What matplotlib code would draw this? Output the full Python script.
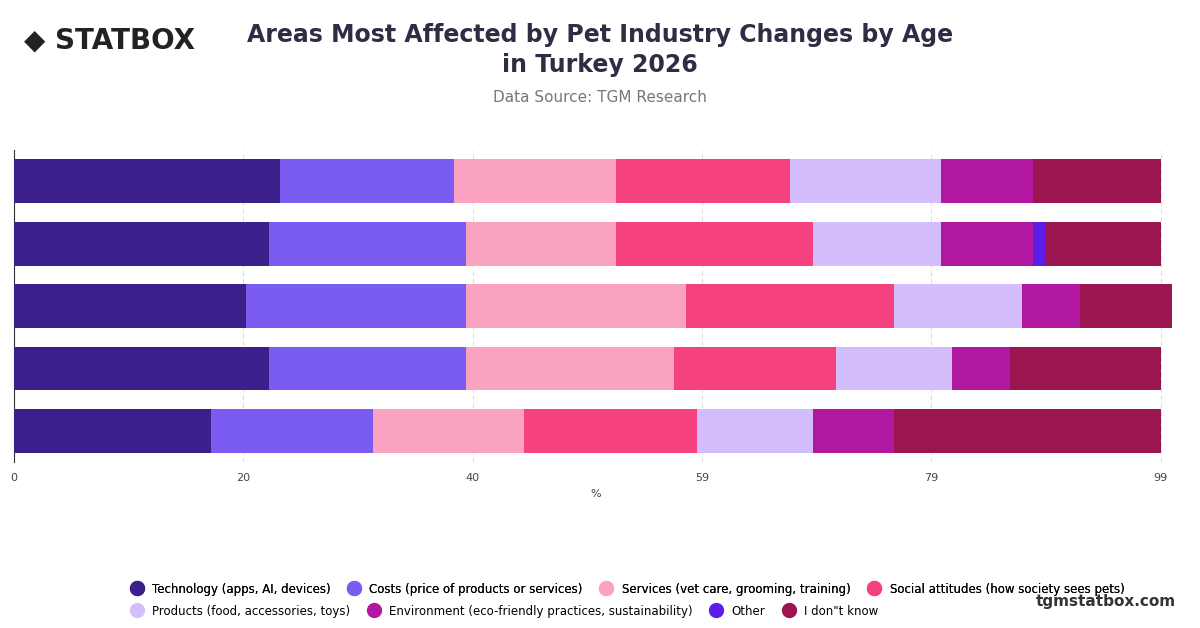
import matplotlib.pyplot as plt
from matplotlib.lines import Line2D
import numpy as np

groups = ["18-24", "25-34", "35-44", "45-54", "55+"]
series = ["Technology (apps, AI, devices)", "Costs (price of products or services)",
          "Services (vet care, grooming, training)", "Social attitudes (how society sees pets)",
          "Products (food, accessories, toys)", "Environment (eco-friendly practices, sustainability)",
          "Other", "I don\"t know"]
values = [
    [23, 22, 20, 22, 17],
    [15, 17, 19, 17, 14],
    [14, 13, 19, 18, 13],
    [15, 17, 18, 14, 15],
    [13, 11, 11, 10, 10],
    [8, 8, 5, 5, 7],
    [0, 1, 0, 0, 0],
    [11, 10, 8, 13, 23],
]
colors = ["#3b1f8a", "#7b5cf0", "#f9a3c0", "#f6417f", "#d4bdfb", "#b2179f", "#5b1ee6", "#9b1550"]
ticks = [0, 19.8, 39.6, 59.4, 79.2, 99]
tick_labels = ["0", "20", "40", "59", "79", "99"]

fig = plt.figure(figsize=(12, 6.28), dpi=100)
ax = fig.add_axes([0.0117, 0.264, 0.97, 0.497])
y = np.arange(len(groups))
left = np.zeros(len(groups))
for name, vals, c in zip(series, values, colors):
    ax.barh(y, vals, left=left, color=c, height=0.7, label=name, zorder=3)
    left += np.array(vals)

ax.set_ylim(len(groups) - 0.5, -0.5)
ax.set_xlim(0, 100.5)
ax.set_yticks([])
ax.set_xticks(ticks)
ax.set_xticklabels(tick_labels, fontsize=8, color="#444444")
ax.tick_params(axis="x", length=0, pad=8)
ax.grid(axis="x", color="#dddddd", linestyle=(0, (4, 3)), linewidth=0.8, zorder=0)
for s in ["top", "right", "bottom"]:
    ax.spines[s].set_visible(False)
ax.spines["left"].set_color("#333333")
ax.set_xlabel("%", fontsize=8, color="#444444", labelpad=4)

fig.text(0.5, 0.92, "Areas Most Affected by Pet Industry Changes by Age\nin Turkey 2026",
         ha="center", va="center", fontsize=17, fontweight="bold", color="#2d2d44",
         linespacing=1.3)
fig.text(0.5, 0.838, "Data Source: TGM Research", ha="center", fontsize=11, color="#777777")
fig.text(0.02, 0.935, "◆ STATBOX", fontsize=20, fontweight="bold", color="#222222", va="center")
fig.text(0.98, 0.035, "tgmstatbox.com", ha="right", fontsize=11, fontweight="bold", color="#333333")

handles = [Line2D([], [], marker="o", linestyle="", markersize=10, color=c) for c in colors]
kw = dict(frameon=False, fontsize=8.5, handletextpad=0.3, columnspacing=1.0,
          loc="center left", ncol=4, borderaxespad=0)
row1 = fig.legend(handles[:4], series[:4], bbox_to_anchor=(0.1, 0.062), **kw)
fig.add_artist(row1)
fig.legend(handles[4:], series[4:], bbox_to_anchor=(0.1, 0.027), **kw)

fig.savefig("out.png", dpi=100)
